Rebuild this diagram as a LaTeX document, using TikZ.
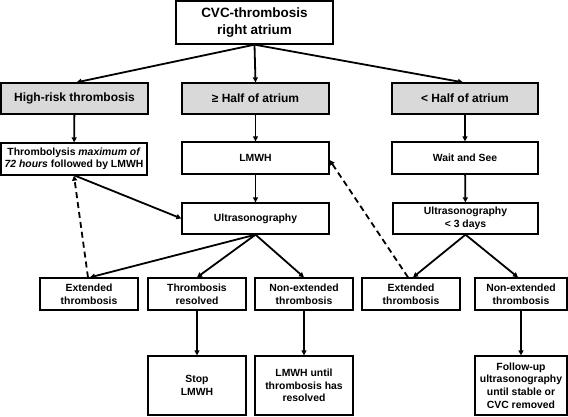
\documentclass[tikz,border=0pt]{standalone}
\usepackage{fontspec}
\setmainfont{Liberation Sans}
\usetikzlibrary{arrows.meta,calc}
\definecolor{hdrgray}{RGB}{217,217,217}
\tikzset{
  box/.style={draw=black, line width=1.3pt, fill=white, inner sep=1pt, align=center,
    font=\fontsize{10.4pt}{12.6pt}\selectfont\bfseries},
  topbox/.style={box, minimum width=157pt, minimum height=43pt,
    font=\fontsize{13.5pt}{17pt}\selectfont\bfseries},
  hdrbox/.style={box, fill=hdrgray, minimum width=147pt, minimum height=31pt,
    font=\fontsize{12pt}{14pt}\selectfont\bfseries},
  midbox/.style={box, minimum width=147pt, minimum height=32pt},
  resbox/.style={box, minimum width=98pt, minimum height=32pt},
  endbox/.style={box, minimum width=98pt, minimum height=59pt},
  arr/.style={line width=1.8pt, -{Triangle[length=5pt,width=5pt]}},
  darr/.style={arr, dash pattern=on 6pt off 4pt},
}
\begin{document}
\begin{tikzpicture}[x=1pt,y=-1pt]
\useasboundingbox (0,0) rectangle (568,416);
% nodes
\node[topbox] (top) at (254.5,22.5) {CVC-thrombosis\\right atrium};
\node[hdrbox] (hr) at (74.5,98.5) {High-risk thrombosis};
\node[hdrbox] (ge) at (255.5,98.5) {≥ Half of atrium};
\node[hdrbox, minimum width=146pt] (lt) at (465,98.5) {< Half of atrium};
\node[midbox, minimum width=146pt] (thr) at (74,159) {Thrombolysis \textit{maximum of}\\\textit{72 hours} followed by LMWH};
\node[midbox] (lmwh) at (255.5,158) {LMWH};
\node[midbox, minimum width=146pt] (wait) at (465,158) {Wait and See};
\node[midbox, minimum height=31pt] (us) at (255.5,218.5) {Ultrasonography};
\node[midbox, minimum width=145pt, minimum height=31pt] (us3) at (465.5,218.5) {Ultrasonography\\< 3 days};
\node[resbox] (ext1) at (89,294) {Extended\\thrombosis};
\node[resbox] (res) at (197,294) {Thrombosis\\resolved};
\node[resbox] (nonx) at (304,294) {Non-extended\\thrombosis};
\node[resbox] (ext2) at (411,294) {Extended\\thrombosis};
\node[resbox, minimum width=92pt] (nonx2) at (521,294) {Non-extended\\thrombosis};
\node[endbox] (stop) at (197,385.5) {Stop\\LMWH};
\node[endbox] (until) at (304,385.5) {LMWH until\\thrombosis has\\resolved};
\node[endbox, minimum width=92pt] (follow) at (521,385.5) {Follow-up\\ultrasonography\\until stable or\\CVC removed};
% connectors
\draw[arr] (top.south) -- ($(hr.north)+(2,0)$);
\draw[arr] (top.south) -- (ge.north);
\draw[arr] (top.south) -- ($(lt.north)+(-2,0)$);
\draw[arr] (hr) -- (thr);
\draw[arr] (ge) -- (lmwh);
\draw[arr] (lt) -- (wait);
\draw[arr] (lmwh) -- (us);
\draw[arr] (wait) -- (us3);
\draw[arr] ($(thr.south)+(1,0)$) -- (us.west);
\draw[arr] (us.south) -- ($(ext1.north)+(1,0)$);
\draw[arr] (us.south) -- (res.north);
\draw[arr] (us.south) -- (nonx.north);
\draw[arr] (us3.south) -- ($(ext2.north)+(2,0)$);
\draw[arr] (us3.south) -- ($(nonx2.north)+(-3,0)$);
\draw[darr] ($(ext1.north)+(-1,0)$) -- (thr.south);
\draw[darr] ($(ext2.north)+(-3,0)$) -- ($(lmwh.east)+(0,2)$);
\draw[arr] (res) -- (stop);
\draw[arr] (nonx) -- (until);
\draw[arr] (nonx2) -- (follow);
\end{tikzpicture}
\end{document}
